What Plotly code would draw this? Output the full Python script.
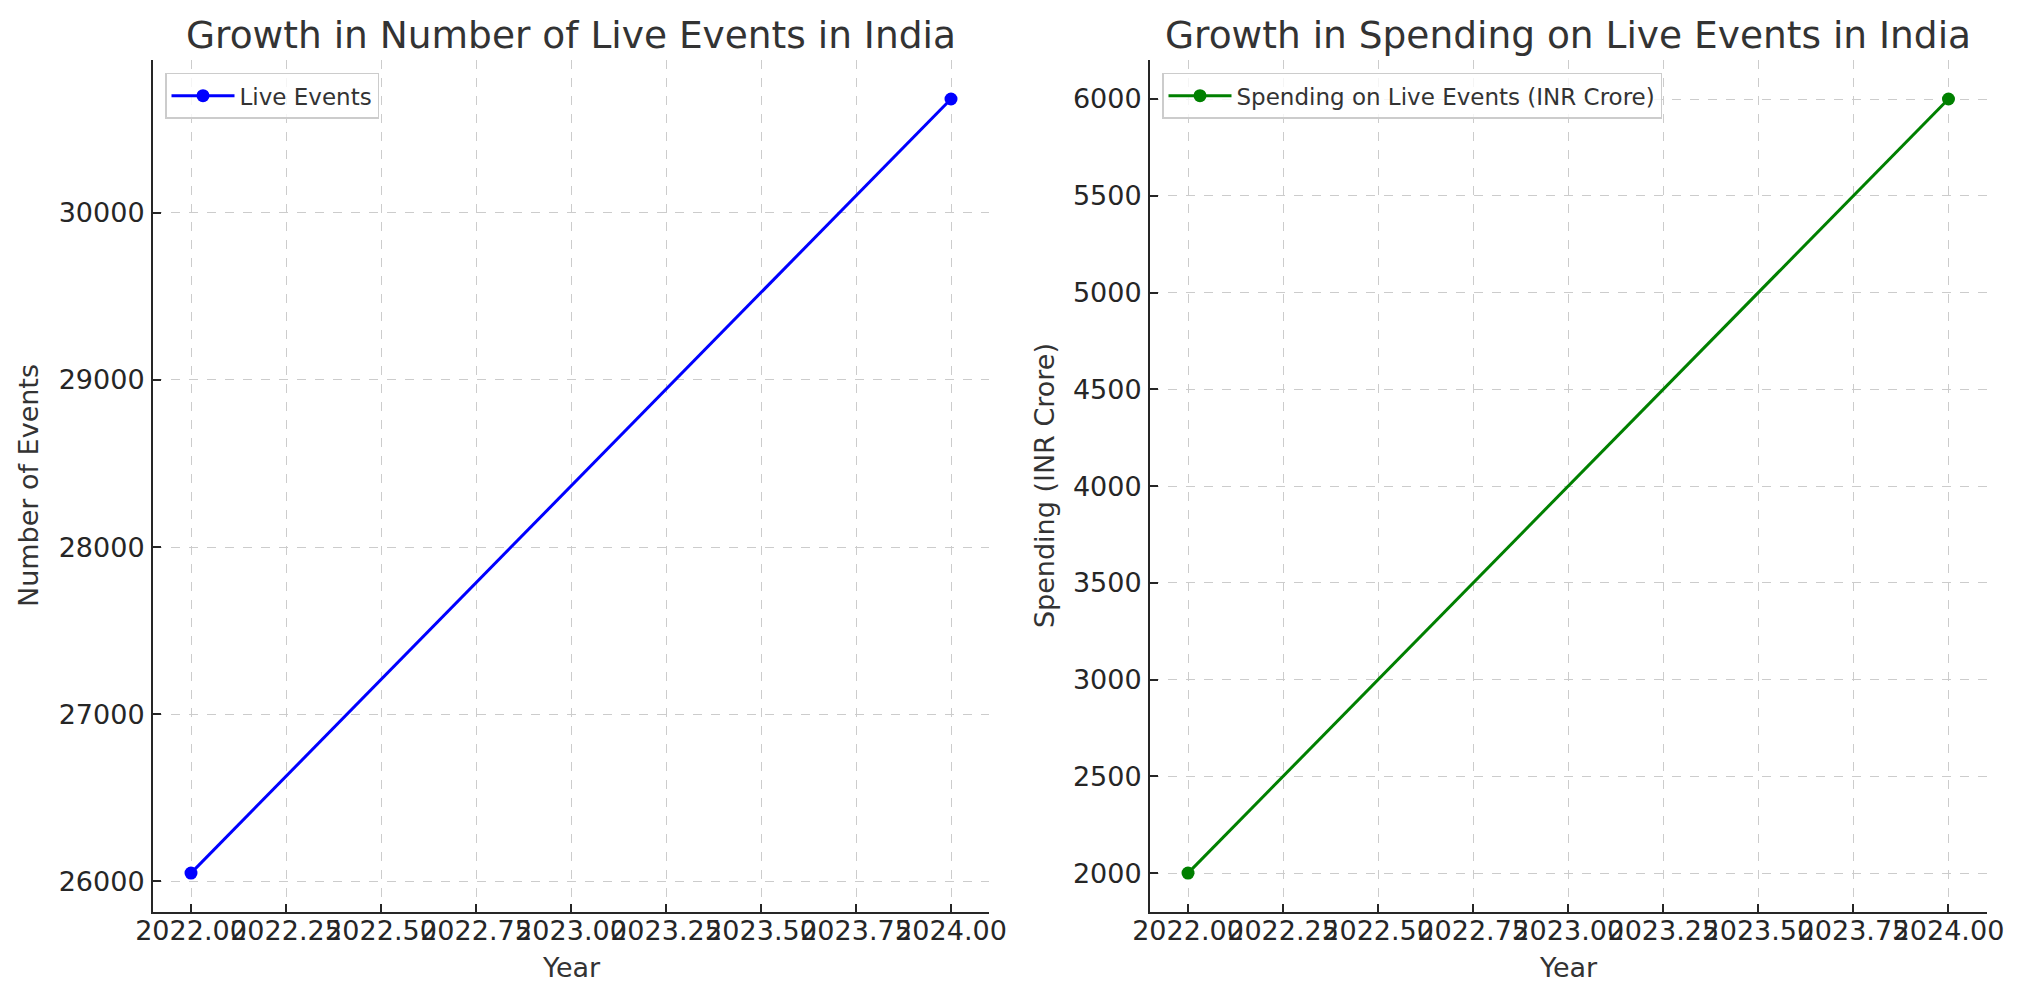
import plotly.graph_objects as go

years = [2022, 2024]
live_events = [26050, 30680]
spending = [2000, 6000]

titles = ["Growth in Number of Live Events in India", "Growth in Spending on Live Events in India"]
ylabels = ["Number of Events", "Spending (INR Crore)"]
xlabel = "Year"
series_names = ["Live Events", "Spending on Live Events (INR Crore)"]
colors = ["blue", "green"]

W, H = 2024, 1002
FONT = "DejaVu Sans"
TXT = "#333333"

def pad_range(vals, frac=0.05):
    lo, hi = min(vals), max(vals)
    d = (hi - lo) * frac
    return [lo - d, hi + d]

fig = go.Figure()

xdoms = [[153 / W, 989 / W], [1150 / W, 1986.5 / W]]
ydom = [1 - 911.8 / H, 1 - 60.3 / H]
ydticks = [1000, 500]
ydata = [live_events, spending]
legend_x = [165 / W, 1162 / W]
ylabel_x = [28 / W, 1044 / W]

for i in range(2):
    xa = "x" if i == 0 else "x2"
    ya = "y" if i == 0 else "y2"
    leg = "legend" if i == 0 else "legend2"
    fig.add_trace(go.Scatter(
        x=years, y=ydata[i], mode="lines+markers", name=series_names[i],
        line=dict(color=colors[i], width=3), marker=dict(color=colors[i], size=13),
        xaxis=xa, yaxis=ya, legend=leg, showlegend=True,
    ))
    axis_common = dict(
        showline=True, linecolor="#262626", linewidth=2,
        ticks="inside", ticklen=8, tickwidth=1.5, tickcolor="#262626",
        showgrid=True, gridcolor="#cccccc", griddash="dash", gridwidth=1.2,
        zeroline=False, tickfont=dict(family=FONT, size=27, color="#262626"),
        mirror=False, automargin=False, tickangle=0,
    )
    xkey = "xaxis" if i == 0 else "xaxis2"
    ykey = "yaxis" if i == 0 else "yaxis2"
    fig.update_layout(**{
        xkey: dict(axis_common, domain=xdoms[i], range=pad_range(years),
                   tick0=2022, dtick=0.25, tickformat=".2f",
                   anchor=ya, ticklabelstandoff=-6),
        ykey: dict(axis_common, domain=ydom, range=pad_range(ydata[i]),
                   dtick=ydticks[i], tickformat="d", anchor=xa,
                   ticklabelstandoff=1),
    })
    cx = (xdoms[i][0] + xdoms[i][1]) / 2
    fig.add_annotation(text=titles[i], x=cx, y=ydom[1], xref="paper", yref="paper",
                       xanchor="center", yanchor="bottom", yshift=1, showarrow=False,
                       font=dict(family=FONT, size=37.5, color=TXT))
    fig.add_annotation(text=xlabel, x=cx, y=1 - 967 / H, xref="paper", yref="paper",
                       xanchor="center", yanchor="middle", showarrow=False,
                       font=dict(family=FONT, size=27, color=TXT))
    fig.add_annotation(text=ylabels[i], x=ylabel_x[i], y=(ydom[0] + ydom[1]) / 2,
                       xref="paper", yref="paper", xanchor="center", yanchor="middle",
                       textangle=-90, showarrow=False,
                       font=dict(family=FONT, size=27, color=TXT))

legend_style = dict(bgcolor="rgba(255,255,255,0.8)", bordercolor="#cccccc", borderwidth=1.5,
                    font=dict(family=FONT, size=23, color=TXT), itemwidth=63,
                    xanchor="left", yanchor="top", y=1 - 72.7 / H)
fig.update_layout(
    template="none",
    width=W, height=H,
    margin=dict(l=0, r=0, t=0, b=0),
    paper_bgcolor="white", plot_bgcolor="white",
    font=dict(family=FONT, color=TXT),
    legend=dict(legend_style, x=legend_x[0]),
    legend2=dict(legend_style, x=legend_x[1]),
)

fig.write_html("out.html", config={"displayModeBar": False},
               post_script="document.body.style.margin='0';document.body.style.overflow='hidden';")
